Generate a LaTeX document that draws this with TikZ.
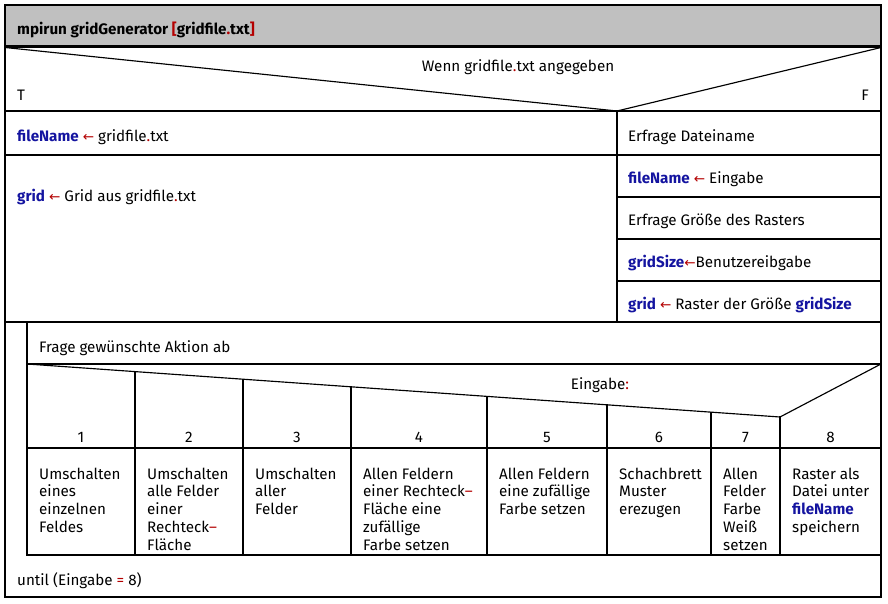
\documentclass[tikz,border=0pt]{standalone}
\usepackage{fontspec}
\setmainfont{Fira Sans}
\newfontfamily\symf{DejaVu Sans}
\definecolor{vblue}{RGB}{20,20,160}
\definecolor{vred}{RGB}{180,0,0}
\definecolor{hgray}{RGB}{192,192,192}
\newcommand{\vn}[1]{\textbf{\color{vblue}#1}}
\newcommand{\la}{{\color{vred}\symf\fontsize{13.5}{14}\selectfont ←}}
\newcommand{\rd}[1]{{\color{vred}#1}}
\newcommand{\gf}{gridfile\rd{.}txt}
\begin{document}
\begin{tikzpicture}[x=1pt,y=-1pt,
  font=\fontsize{15.2}{17.8}\selectfont,
  txt/.style={anchor=base west, inner sep=0pt},
  ctxt/.style={anchor=base, inner sep=0pt},
  ln/.style={line width=1.15pt, line cap=rect},
]
\useasboundingbox (0,0) rectangle (888,604);
\fill[white] (0,0) rectangle (888,604);
\fill[hgray] (5,5) rectangle (881,47);
% frame
\draw[line width=1.4pt] (5,5) rectangle (881,597);
\draw[line width=2.8pt] (5,46.5) -- (881,46.5);
% if
\draw[ln] (5,47.5) -- (617,111) -- (881,47.5);
\draw[ln] (5,111) -- (881,111);
\draw[ln] (617,111) -- (617,322);
\draw[ln] (5,155) -- (881,155);
\draw[ln] (617,197) -- (881,197);
\draw[ln] (617,239) -- (881,239);
\draw[ln] (617,281) -- (881,281);
\draw[ln] (5,322) -- (881,322);
% loop
\draw[ln] (27,322) -- (27,555);
\draw[ln] (27,364) -- (881,364);
\draw[ln] (27,555) -- (881,555);
% case
\draw[ln] (27,364) -- (780,417) -- (881,364);
\draw[ln] (135,371.6) -- (135,555);
\draw[ln] (243,379.2) -- (243,555);
\draw[ln] (351,386.8) -- (351,555);
\draw[ln] (487,396.4) -- (487,555);
\draw[ln] (607,404.8) -- (607,555);
\draw[ln] (711,412.1) -- (711,555);
\draw[ln] (780,417) -- (780,555);
\draw[ln] (27,448) -- (881,448);

% texts
\node[txt] (hdr) at (17,35) {\textbf{mpirun gridGenerator \rd{[}gridfile\rd{.}txt\rd{]}}};
\node[ctxt] (cond) at (518,72) {Wenn \gf{} angegeben};
\node[txt] (T) at (17,100.5) {T};
\node[anchor=base east, inner sep=0pt] (F) at (869,100.5) {F};
\node[txt] (l1) at (17,141.5) {\vn{fileName} \la{} \gf};
\node[txt] (l2) at (17,201) {\vn{grid} \la{} Grid aus \gf};
\node[txt] (r1) at (628,141.5) {Erfrage Dateiname};
\node[txt] (r2) at (628,184) {\vn{fileName} \la{} Eingabe};
\node[txt] (r3) at (628,225.5) {Erfrage Größe des Rasters};
\node[txt] (r4) at (628,267.5) {\vn{gridSize}\la{}Benutzereibgabe};
\node[txt] (r5) at (628,309) {\vn{grid} \la{} Raster der Größe \vn{gridSize}};
\node[txt] (ask) at (39,352.5) {Frage gewünschte Aktion ab};
\node[ctxt] (sel) at (600,389) {Eingabe\rd{:}};
\node[ctxt] (n1) at (81,442) {1};
\node[ctxt] (n2) at (189,442) {2};
\node[ctxt] (n3) at (297,442) {3};
\node[ctxt] (n4) at (419,442) {4};
\node[ctxt] (n5) at (547,442) {5};
\node[ctxt] (n6) at (659,442) {6};
\node[ctxt] (n7) at (745.5,442) {7};
\node[ctxt] (n8) at (830.5,442) {8};
\node[txt] (c1) at (39,479) {\vtop{\hbox{Umschalten}\hbox{eines}\hbox{einzelnen}\hbox{Feldes}}};
\node[txt] (c2) at (147,479) {\vtop{\hbox{Umschalten}\hbox{alle Felder}\hbox{einer}\hbox{Rechteck\rd{–}}\hbox{Fläche}}};
\node[txt] (c3) at (255,479) {\vtop{\hbox{Umschalten}\hbox{aller}\hbox{Felder}}};
\node[txt] (c4) at (363,479) {\vtop{\hbox{Allen Feldern}\hbox{einer Rechteck\rd{–}}\hbox{Fläche eine}\hbox{zufällige}\hbox{Farbe setzen}}};
\node[txt] (c5) at (499,479) {\vtop{\hbox{Allen Feldern}\hbox{eine zufällige}\hbox{Farbe setzen}}};
\node[txt] (c6) at (619,479) {\vtop{\hbox{Schachbrett}\hbox{Muster}\hbox{erezugen}}};
\node[txt] (c7) at (723,479) {\vtop{\hbox{Allen}\hbox{Felder}\hbox{Farbe}\hbox{Weiß}\hbox{setzen}}};
\node[txt] (c8) at (792,479) {\vtop{\hbox{Raster als}\hbox{Datei unter}\hbox{\vn{fileName}}\hbox{speichern}}};
\node[txt] (until) at (17,585) {until (Eingabe \rd{=} 8)};
\end{tikzpicture}
\end{document}
